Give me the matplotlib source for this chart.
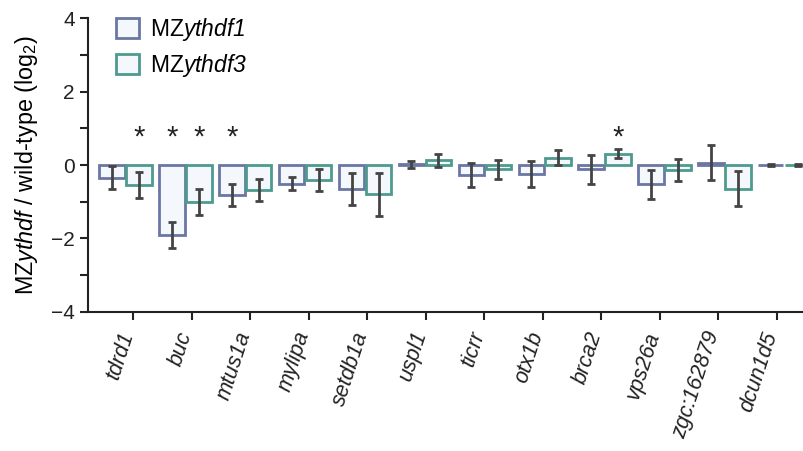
import matplotlib
matplotlib.use('Agg')
import matplotlib.pyplot as plt
from matplotlib.patches import Patch
import numpy as np

plt.rcParams['font.family'] = ['Liberation Sans', 'DejaVu Sans']
plt.rcParams['mathtext.fontset'] = 'custom'
plt.rcParams['mathtext.rm'] = 'Liberation Sans'
plt.rcParams['mathtext.it'] = 'Liberation Sans:italic'
# sf slot used for italic gene names so digits stay italic too
plt.rcParams['mathtext.sf'] = 'Liberation Sans:italic'

# log2 fold change vs wild-type, mean and error per gene
genes = ['tdrd1', 'buc', 'mtus1a', 'mylipa', 'setdb1a', 'uspl1', 'ticrr',
         'otx1b', 'brca2', 'vps26a', 'zgc:162879', 'dcun1d5']
ythdf1_vals = [-0.34, -1.91, -0.82, -0.51, -0.66, 0.02, -0.27, -0.25, -0.12, -0.53, 0.06, 0.0]
ythdf1_err = [0.32, 0.35, 0.31, 0.18, 0.43, 0.10, 0.32, 0.36, 0.40, 0.40, 0.48, 0.02]
ythdf3_vals = [-0.55, -1.00, -0.68, -0.42, -0.80, 0.13, -0.12, 0.20, 0.31, -0.14, -0.64, 0.0]
ythdf3_err = [0.36, 0.36, 0.30, 0.30, 0.59, 0.18, 0.27, 0.20, 0.13, 0.30, 0.47, 0.02]
# significance marks: (gene index, series index)
signif = [(0, 1), (1, 0), (1, 1), (2, 0), (8, 1)]

c1 = '#6b76a3'
c3 = '#4d9a8e'
fill = '#f4f8fd'
err_c = '#444444'

x = np.arange(len(genes))
w = 0.425
off = 0.225

fig = plt.figure(figsize=(8.04, 4.51), dpi=100)
ax = fig.add_axes([0.1095, 0.309, 0.8905, 0.65])

for s in ['top', 'right']:
    ax.spines[s].set_visible(False)
for s in ['left', 'bottom']:
    ax.spines[s].set_linewidth(1.5)
    ax.spines[s].set_color('#222222')

ax.bar(x - off, ythdf1_vals, w, color=fill, edgecolor=c1, linewidth=2, zorder=2)
ax.bar(x + off, ythdf3_vals, w, color=fill, edgecolor=c3, linewidth=2, zorder=2)
ax.errorbar(x - off, ythdf1_vals, yerr=ythdf1_err, fmt='none', ecolor=err_c,
            elinewidth=2, capsize=3, capthick=2, zorder=3)
ax.errorbar(x + off, ythdf3_vals, yerr=ythdf3_err, fmt='none', ecolor=err_c,
            elinewidth=2, capsize=3, capthick=2, zorder=3)

for gi, si in signif:
    xs = x[gi] - off if si == 0 else x[gi] + off
    ax.text(xs, 0.36, '*', ha='center', va='bottom', fontsize=21, color='#222222')

ax.set_xlim(-0.626, 11.33)
ax.set_ylim(-4, 4)
ax.set_yticks([-4, -2, 0, 2, 4])
ax.set_yticklabels(['\u22124', '\u22122', '0', '2', '4'])
ax.set_yticks([-3, -1, 1, 3], minor=True)

ax.tick_params(axis='y', which='both', direction='out', length=6, width=1.5,
               labelsize=15, colors='#222222')
ax.tick_params(axis='x', direction='out', length=6, width=1.5, pad=10,
               colors='#222222')

ax.set_xticks(x * 0.977 + 0.13)
ax.set_xticklabels(genes, rotation=72, ha='right', va='baseline',
                   rotation_mode='anchor', style='italic', fontsize=15.5)

ax.set_ylabel('MZ$\\mathit{ythdf}$ / wild-type (log$_2$)', fontsize=16.8, labelpad=8)

handles = [Patch(facecolor=fill, edgecolor=c1, linewidth=2),
           Patch(facecolor=fill, edgecolor=c3, linewidth=2)]
ax.legend(handles, ['MZ$\\mathsf{ythdf1}$', 'MZ$\\mathsf{ythdf3}$'], loc='upper left',
          bbox_to_anchor=(0.01, 1.08), frameon=False, fontsize=16.5,
          handlelength=1.0, handleheight=1.0, handletextpad=0.5, labelspacing=0.4)

fig.savefig('out.png', dpi=100)
